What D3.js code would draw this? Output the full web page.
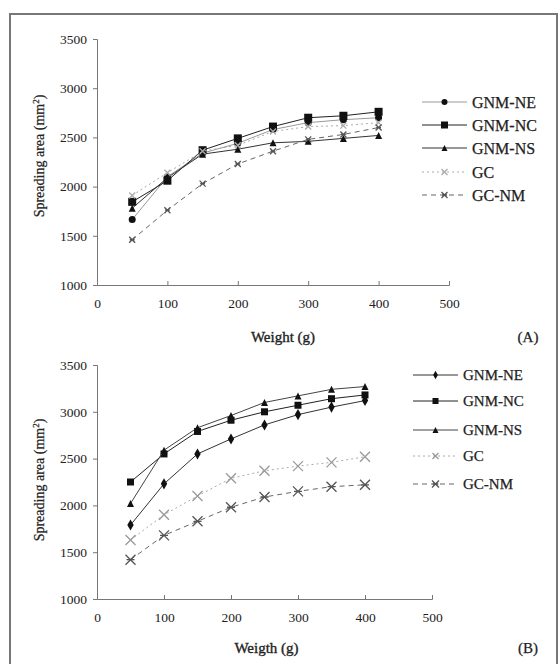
<!DOCTYPE html>
<html><head><meta charset="utf-8">
<script src="https://cdn.jsdelivr.net/npm/d3@7"></script>
<style>html,body{margin:0;padding:0;background:#fff;}svg{display:block;}</style>
</head><body>
<svg id="chart" width="559" height="664"></svg>
<script>
const weights = [50, 100, 150, 200, 250, 300, 350, 400];
const xTicks = [0, 100, 200, 300, 400, 500];
const yTicks = [1000, 1500, 2000, 2500, 3000, 3500];
const seriesNames = ["GNM-NE", "GNM-NC", "GNM-NS", "GC", "GC-NM"];

// Panel A values
const neA   = [1665, 2100, 2340, 2440, 2580, 2650, 2680, 2700];
const ncA   = [1845, 2060, 2370, 2490, 2610, 2700, 2720, 2760];
const nsA   = [1780, 2090, 2330, 2380, 2445, 2460, 2490, 2520];
const gcA   = [1910, 2140, 2360, 2420, 2560, 2610, 2620, 2650];
const gcnmA = [1460, 1760, 2030, 2230, 2360, 2480, 2530, 2600];

// Panel B values
const neB   = [1790, 2230, 2550, 2710, 2860, 2970, 3050, 3120];
const ncB   = [2250, 2550, 2790, 2910, 3000, 3070, 3140, 3180];
const nsB   = [2020, 2590, 2830, 2960, 3100, 3170, 3240, 3270];
const gcB   = [1630, 1900, 2100, 2290, 2370, 2420, 2460, 2520];
const gcnmB = [1420, 1680, 1830, 1980, 2090, 2150, 2200, 2220];

const svg = d3.select("#chart");
const FONT = "'Liberation Serif','Times New Roman',serif";

// outer frame
svg.append("path").attr("d", "M10,668 L10,14 L557,14 L557,668")
  .attr("fill", "none").attr("stroke", "#777").attr("stroke-width", 2);

function marker(g, type, x, y, size, color) {
  if (type === "circle") {
    g.append("circle").attr("cx", x).attr("cy", y).attr("r", size/2).attr("fill", color);
  } else if (type === "diamond") {
    g.append("path").attr("d", d3.symbol(d3.symbolDiamond, size*size*0.55)()).attr("transform", `translate(${x},${y})`).attr("fill", color);
  } else if (type === "square") {
    g.append("rect").attr("x", x-size/2).attr("y", y-size/2).attr("width", size).attr("height", size).attr("fill", color);
  } else if (type === "triangle") {
    g.append("path").attr("d", `M${x},${y-size/2} L${x+size/2},${y+size/2} L${x-size/2},${y+size/2} Z`).attr("fill", color);
  } else if (type === "x" || type === "star") {
    const h = size/2;
    g.append("path").attr("d", `M${x-h},${y-h} L${x+h},${y+h} M${x-h},${y+h} L${x+h},${y-h}` + (type === "star" ? ` M${x-h*0.8},${y} L${x+h*0.8},${y}` : ""))
      .attr("stroke", color).attr("stroke-width", 1.3).attr("fill", "none");
  }
}

function drawPanel(cfg) {
  const x = d3.scaleLinear().domain([0, 500]).range(cfg.xRange);
  const y = d3.scaleLinear().domain([1000, 3500]).range(cfg.yRange);
  const g = svg.append("g");

  // axes
  const ya = g.append("g").attr("transform", `translate(${cfg.xRange[0]},0)`)
    .call(d3.axisLeft(y).tickValues(yTicks).tickSize(4).tickPadding(6).tickFormat(d3.format("d")));
  const xa = g.append("g").attr("transform", `translate(0,${cfg.yRange[0]})`)
    .call(d3.axisBottom(x).tickValues(xTicks).tickSize(-4).tickPadding(13).tickFormat(d3.format("d")));
  [ya, xa].forEach(a => {
    a.select(".domain").attr("stroke", "#777");
    a.selectAll(".tick line").attr("stroke", "#777");
    a.selectAll("text").attr("font-family", FONT).attr("font-size", 13.5).attr("fill", "#222");
  });

  // series
  cfg.series.forEach(s => {
    const line = d3.line().x((d, i) => x(weights[i])).y(d => y(d));
    g.append("path").datum(s.values).attr("d", line).attr("fill", "none")
      .attr("stroke", s.lineColor).attr("stroke-width", s.lw || 1).attr("stroke-dasharray", s.dash || null);
    s.values.forEach((v, i) => marker(g, s.marker, x(weights[i]), y(v), s.size, s.color));
  });

  // legend
  cfg.series.forEach((s, i) => {
    const ly = cfg.legendY[i];
    g.append("line").attr("x1", cfg.legendX[0]).attr("x2", cfg.legendX[1]).attr("y1", ly).attr("y2", ly)
      .attr("stroke", s.lineColor).attr("stroke-width", s.lw || 1).attr("stroke-dasharray", s.dash || null);
    marker(g, s.marker, (cfg.legendX[0] + cfg.legendX[1]) / 2, ly, s.legSize || s.size, s.color);
    g.append("text").attr("x", cfg.legendX[1] + 5).attr("y", ly).attr("dy", "0.35em")
      .attr("font-family", FONT).attr("font-size", cfg.legendFont).attr("fill", "#222")
      .attr("stroke", "#222").attr("stroke-width", 0.25).text(seriesNames[i]);
  });

  // titles
  g.append("text").attr("x", (cfg.xRange[0] + cfg.xRange[1]) / 2 + cfg.xTitleShift).attr("y", cfg.xTitleY)
    .attr("text-anchor", "middle").attr("font-family", FONT).attr("font-size", 15).attr("fill", "#222")
    .attr("stroke", "#222").attr("stroke-width", 0.35).text(cfg.xTitle);
  const yt = g.append("text").attr("transform", `translate(44,${cfg.yTitleY}) rotate(-90)`)
    .attr("text-anchor", "middle").attr("font-family", FONT).attr("font-size", 14).attr("fill", "#222")
    .attr("stroke", "#222").attr("stroke-width", 0.25);
  yt.append("tspan").text("Spreading area (mm");
  yt.append("tspan").attr("dy", -5).attr("font-size", 9).text("2");
  yt.append("tspan").attr("dy", 5).text(")");
  g.append("text").attr("x", 528).attr("y", cfg.xTitleY).attr("text-anchor", "middle")
    .attr("font-family", FONT).attr("font-size", 15).attr("fill", "#222")
    .attr("stroke", "#222").attr("stroke-width", 0.25).text(cfg.tag);
}

drawPanel({
  xRange: [97, 449], yRange: [285, 39],
  series: [
    {values: neA,   marker: "circle",   size: 7, color: "#111", lineColor: "#999", legSize: 6},
    {values: ncA,   marker: "square",   size: 8, color: "#111", lineColor: "#222", legSize: 7},
    {values: nsA,   marker: "triangle", size: 7, color: "#111", lineColor: "#333", legSize: 6},
    {values: gcA,   marker: "x",        size: 6, color: "#aaa", lineColor: "#aaa", dash: "2,3"},
    {values: gcnmA, marker: "star",     size: 6, color: "#555", lineColor: "#666", dash: "5,4"}
  ],
  legendX: [422, 467], legendY: [102, 125, 148, 172, 195], legendFont: 16,
  xTitle: "Weight (g)", xTitleShift: 10, xTitleY: 342, yTitleY: 156, tag: "(A)"
});

drawPanel({
  xRange: [97, 432], yRange: [599, 365],
  series: [
    {values: neB,   marker: "diamond",  size: 8, color: "#111", lineColor: "#333", legSize: 6},
    {values: ncB,   marker: "square",   size: 7, color: "#111", lineColor: "#222", legSize: 6},
    {values: nsB,   marker: "triangle", size: 7, color: "#111", lineColor: "#444", legSize: 6},
    {values: gcB,   marker: "x",        size: 10, color: "#999", lineColor: "#aaa", dash: "2,3", legSize: 6},
    {values: gcnmB, marker: "star",     size: 10, color: "#555", lineColor: "#666", dash: "5,4", legSize: 7}
  ],
  legendX: [413, 458], legendY: [375, 401, 430, 456, 484], legendFont: 15,
  xTitle: "Weigth (g)", xTitleShift: 2, xTitleY: 653, yTitleY: 480, tag: "(B)"
});
</script>
</body></html>
